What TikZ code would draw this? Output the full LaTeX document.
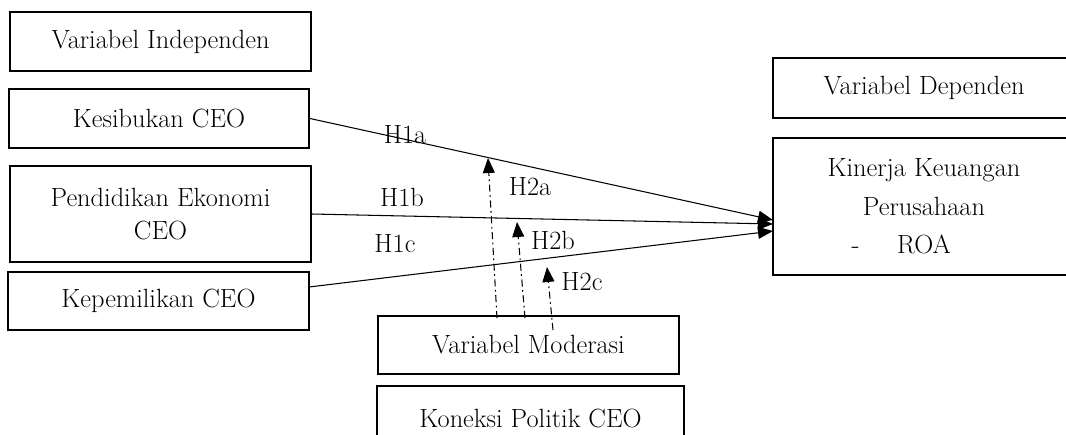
\documentclass[tikz,border=0pt]{standalone}
\usetikzlibrary{arrows.meta}
\usepackage{amsmath}

\tikzset{
  kotak/.style={draw, line width=1.1pt, align=center, inner sep=0pt,
    font=\fontsize{15}{19}\selectfont},
  panah/.style={line width=0.6pt, -{Triangle[length=0.3cm,width=0.24cm]}},
  moderasi/.style={line width=0.6pt, dash pattern=on 4pt off 2pt on 1pt off 2pt,
    -{Triangle[length=0.3cm,width=0.24cm]}},
  label/.style={font=\fontsize{15}{17}\selectfont}
}

\begin{document}
\begin{tikzpicture}[x=0.02cm, y=-0.02cm]
      \useasboundingbox (0,0) rectangle (1066,434);
      \clip (0,0) rectangle (1066,434);
      % kolom kiri
      \node[kotak, minimum width=301*0.02cm, minimum height=59*0.02cm] (indep) at (160.5,41.5) {Variabel Independen};
      \node[kotak, minimum width=300*0.02cm, minimum height=59*0.02cm] (kesib) at (159,118.5) {Kesibukan CEO};
      \node[kotak, minimum width=301*0.02cm, minimum height=96*0.02cm] (pend) at (160.5,214) {Pendidikan Ekonomi\\CEO};
      \node[kotak, minimum width=301*0.02cm, minimum height=58*0.02cm] (kepem) at (158.5,301) {Kepemilikan CEO};
      % kolom kanan
      \node[kotak, minimum width=302*0.02cm, minimum height=60*0.02cm] (dep) at (924,88) {Variabel Dependen};
      \node[kotak, minimum width=302*0.02cm, minimum height=137*0.02cm] (kinerja) at (924,206.5)
        {Kinerja Keuangan\\[3pt]Perusahaan\\[3pt]\makebox[0pt][r]{-\hspace{0.75cm}}ROA};
      % moderasi
      \node[kotak, minimum width=301*0.02cm, minimum height=58*0.02cm] (moder) at (528.5,345) {Variabel Moderasi};
      \node[kotak, minimum width=307*0.02cm, minimum height=64*0.02cm] (kon) at (530.5,418) {Koneksi Politik CEO};

      \coordinate (a1) at (309,287);
      \coordinate (t1) at (773,220);
      \coordinate (t2) at (773,224);
      \coordinate (t3) at (773,231);
      \draw[panah] (kesib.east) -- (t1);
      \draw[panah] (pend.east) -- (t2);
      \draw[panah] (a1) -- (t3);

      \coordinate (m1) at (497,318);
      \coordinate (m2) at (525,318);
      \coordinate (m3) at (553,330);
      \coordinate (h1) at (488,158);
      \coordinate (h2) at (517,222);
      \coordinate (h3) at (547,267);
      \draw[moderasi] (m1) -- (h1);
      \draw[moderasi] (m2) -- (h2);
      \draw[moderasi] (m3) -- (h3);

      \node[label] (l1a) at (405,135) {H1a};
      \node[label] (l1b) at (402,197) {H1b};
      \node[label] (l1c) at (395,244) {H1c};
      \node[label] (l2a) at (530,187) {H2a};
      \node[label] (l2b) at (553,240) {H2b};
      \node[label] (l2c) at (582,282) {H2c};
  \end{tikzpicture}
\end{document}
